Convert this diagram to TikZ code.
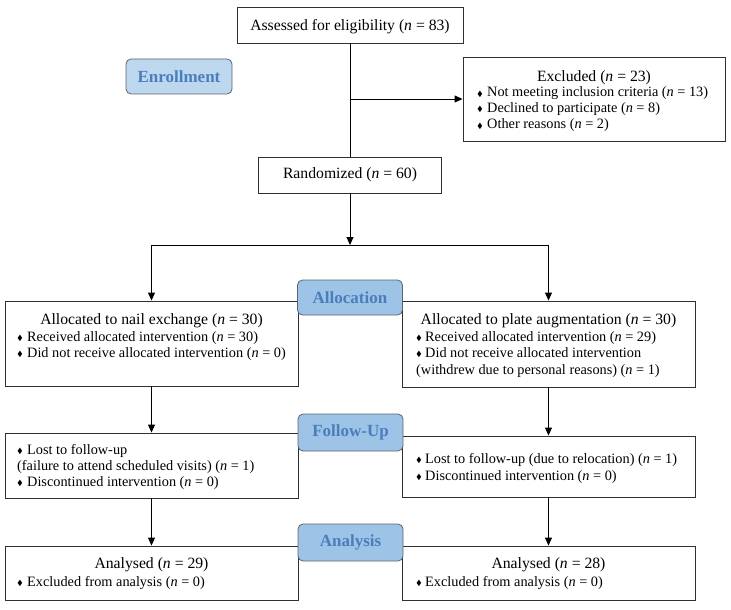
\documentclass[tikz,border=0pt]{standalone}
\usepackage{amssymb}
\usepackage{fontspec}
\setmainfont{Liberation Serif}
\usetikzlibrary{arrows.meta}
\definecolor{lblfill}{HTML}{9DC3E6}
\definecolor{lblfillL}{HTML}{BDD7EE}
\definecolor{lbltext}{HTML}{4A7EBB}
\definecolor{lbldraw}{HTML}{5A6470}
\definecolor{boxdraw}{HTML}{303030}
\newcommand{\bul}[1]{\makebox[#1][l]{\raisebox{0.8bp}{\fontsize{7.5bp}{7.5bp}\selectfont$\blacklozenge$}}}
\newcommand{\nn}{\textit{n}}
\begin{document}
\begin{tikzpicture}[x=1bp,y=-1bp,
  box/.style={draw=boxdraw, line width=0.9bp, inner sep=0, fill=white},
  lbl/.style={draw=lbldraw, line width=0.8bp, fill=lblfill, rounded corners=5bp, inner sep=0,
    text=lbltext, font=\fontsize{17bp}{19bp}\selectfont\bfseries, minimum width=105bp, minimum height=36bp},
  ttl/.style={anchor=base, inner sep=0, font=\fontsize{15.7bp}{17bp}\selectfont},
  itm/.style={anchor=base west, inner sep=0, font=\fontsize{14.3bp}{16bp}\selectfont},
  conn/.style={draw=black, line width=0.9bp},
  arr/.style={conn, -{Triangle[length=8bp,width=7bp]}},
]
\useasboundingbox (0,0) rectangle (731,610);

% boxes
\node[box, minimum width=226bp, minimum height=36bp] (assess) at (350,25) {};
\node[box, minimum width=262bp, minimum height=84bp] (exclude) at (594,99) {};
\node[box, minimum width=183bp, minimum height=36bp] (random) at (350,175) {};
\node[box, minimum width=293bp, minimum height=85bp] (allocL) at (151.5,343.5) {};
\node[box, minimum width=293bp, minimum height=86bp] (allocR) at (548.5,344) {};
\node[box, minimum width=293bp, minimum height=65bp] (fuL) at (151.5,465.5) {};
\node[box, minimum width=293bp, minimum height=61bp] (fuR) at (548.5,466.5) {};
\node[box, minimum width=293bp, minimum height=54bp] (anL) at (151.5,573) {};
\node[box, minimum width=293bp, minimum height=54bp] (anR) at (548.5,573) {};

% stage labels
\node[lbl, fill=lblfillL, minimum width=106bp, minimum height=35bp] (lenroll) at (179,76.5) {Enrollment};
\node[lbl, minimum height=35bp] (lalloc) at (350,297.5) {Allocation};
\node[lbl, minimum height=37bp] (lfollow) at (350.5,432.5) {Follow-Up};
\node[lbl, minimum height=37bp] (lanalysis) at (350.5,542.5) {Analysis};

% connectors
\coordinate (j0) at (350,99);
\coordinate (split) at (350,245);
\draw[conn] (assess.south) -- (random.north);
\draw[arr] (j0) -- (exclude.west);
\draw[arr] (random.south) -- (split);
\draw[conn] (split -| allocL.north) -- (split -| allocR.north);
\draw[arr] (split -| allocL.north) -- (allocL.north);
\draw[arr] (split -| allocR.north) -- (allocR.north);
\draw[arr] (allocL.south) -- (fuL.north);
\draw[arr] (allocR.south) -- (fuR.north);
\draw[arr] (fuL.south) -- (anL.north);
\draw[arr] (fuR.south) -- (anR.north);

% texts
\node[ttl] (t1) at (350,30.7) {Assessed for eligibility (\nn{} = 83)};
\node[ttl] (t2) at (594,81.5) {Excluded (\nn{} = 23)};
\node[itm] (t3) at (477,97) {\bul{10bp}Not meeting inclusion criteria (\nn{} = 13)};
\node[itm] (t4) at (477,112.5) {\bul{10bp}Declined to participate (\nn{} = 8)};
\node[itm] (t5) at (477,129) {\bul{10bp}Other reasons (\nn{} = 2)};
\node[ttl] (t6) at (350,179) {Randomized (\nn{} = 60)};

\node[ttl] (t7) at (151.5,324) {Allocated to nail exchange (\nn{} = 30)};
\node[itm] (t8) at (17,341) {\bul{10bp}Received allocated intervention (\nn{} = 30)};
\node[itm] (t9) at (17,357.5) {\bul{10bp}Did not receive allocated intervention (\nn{} = 0)};

\node[ttl] (t10) at (548.5,324) {Allocated to plate augmentation (\nn{} = 30)};
\node[itm] (t11) at (416,341) {\bul{9bp}Received allocated intervention (\nn{} = 29)};
\node[itm] (t12) at (416,357.5) {\bul{9bp}Did not receive allocated intervention};
\node[itm] (t13) at (416,374) {(withdrew due to personal reasons) (\nn{} = 1)};

\node[itm] (t14) at (17,454) {\bul{10bp}Lost to follow-up};
\node[itm] (t15) at (17,470) {(failure to attend scheduled visits) (\nn{} = 1)};
\node[itm] (t16) at (17,486) {\bul{10bp}Discontinued intervention (\nn{} = 0)};

\node[itm] (t17) at (416,463) {\bul{9bp}Lost to follow-up (due to relocation) (\nn{} = 1)};
\node[itm] (t18) at (416,480) {\bul{9bp}Discontinued intervention (\nn{} = 0)};

\node[ttl] (t19) at (151.5,568) {Analysed (\nn{} = 29)};
\node[itm] (t20) at (17,586) {\bul{10bp}Excluded from analysis (\nn{} = 0)};
\node[ttl] (t21) at (548.5,568) {Analysed (\nn{} = 28)};
\node[itm] (t22) at (416,586) {\bul{9bp}Excluded from analysis (\nn{} = 0)};
\end{tikzpicture}
\end{document}
